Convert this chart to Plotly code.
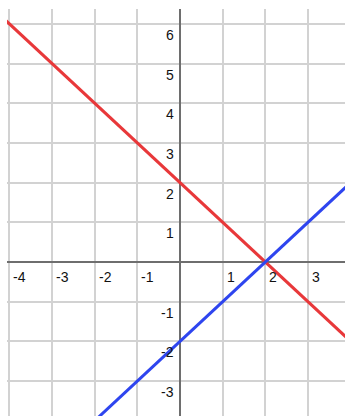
import plotly.graph_objects as go

# two lines: y = -x + 2 and y = x - 2
x_pts = [-4.5, 4.5]
red_y = [6.5, -2.5]
blue_y = [-6.5, 2.5]

x_ticks = [-4, -3, -2, -1, 1, 2, 3]
y_ticks = [-3, -2, -1, 1, 2, 3, 4, 5, 6]
grid_x = [-4, -3, -2, -1, 0, 1, 2, 3]
grid_y = [-3, -2, -1, 0, 1, 2, 3, 4, 5, 6]

fig = go.Figure()
fig.add_trace(go.Scatter(x=x_pts, y=red_y, mode="lines",
                         line=dict(color="#e8383a", width=3), hoverinfo="skip"))
fig.add_trace(go.Scatter(x=x_pts, y=blue_y, mode="lines",
                         line=dict(color="#2e45ef", width=3), hoverinfo="skip"))

ann = []
for t in x_ticks:
    ann.append(dict(x=t, y=0, text=str(t), showarrow=False, xanchor="left",
                    yanchor="top", xshift=2, yshift=-5))
for t in y_ticks:
    ann.append(dict(x=0, y=t, text=str(t), showarrow=False, xanchor="right",
                    yanchor="top", xshift=-4, yshift=-1))

fig.update_layout(
    width=345, height=416,
    margin=dict(l=7, r=0, t=9, b=0),
    paper_bgcolor="white", plot_bgcolor="white",
    showlegend=False,
    font=dict(family="Liberation Sans, Arial", size=14, color="#111"),
    annotations=ann,
    xaxis=dict(range=[-4.054, 3.867], tickvals=grid_x, showticklabels=False,
               showgrid=True, gridcolor="#d2d2d2", gridwidth=1.5,
               zeroline=True, zerolinecolor="#6e6e6e", zerolinewidth=1.5,
               fixedrange=True),
    yaxis=dict(range=[-3.879, 6.373], tickvals=grid_y, showticklabels=False,
               showgrid=True, gridcolor="#d2d2d2", gridwidth=1.5,
               zeroline=True, zerolinecolor="#6e6e6e", zerolinewidth=1.5,
               fixedrange=True),
)

# drop the default page margin so the figure fills the window
fig.write_html("out.html", config={"displayModeBar": False},
               post_script="document.body.style.margin='0';")
